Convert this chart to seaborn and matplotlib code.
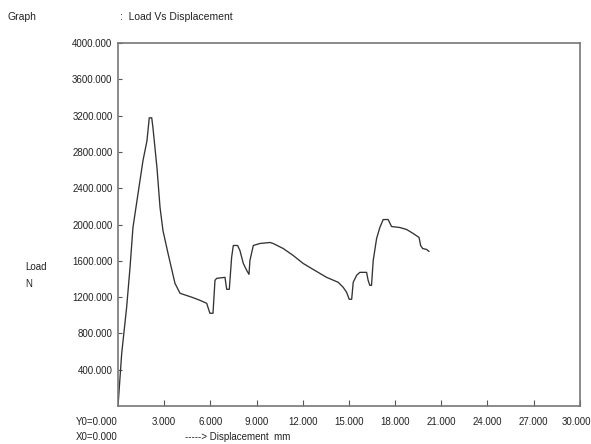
import seaborn as sns
import pandas as pd
from matplotlib import pyplot as plt
from matplotlib.transforms import ScaledTranslation

# displacement (mm) and load (N)
displacement = [0.0, 0.24, 0.56, 0.78, 0.97, 1.30, 1.62, 1.88, 2.03, 2.19, 2.27,
                2.53, 2.73, 2.92, 3.25, 3.70, 4.03, 4.81, 5.32, 5.76, 5.97, 6.17,
                6.30, 6.41, 6.95, 7.06, 7.23, 7.38, 7.49, 7.77, 7.92, 8.14, 8.36,
                8.51, 8.57, 8.79, 9.22, 9.87, 10.08, 10.73, 11.38, 12.03, 12.68,
                13.55, 14.31, 14.63, 14.85, 15.02, 15.18, 15.28, 15.50, 15.71,
                16.15, 16.25, 16.36, 16.47, 16.58, 16.80, 17.01, 17.23, 17.55,
                17.77, 18.31, 18.75, 19.18, 19.56, 19.66, 19.79, 20.05, 20.21]
load = [0, 582, 1088, 1527, 1967, 2341, 2703, 2923, 3176, 3176, 3066,
        2626, 2187, 1934, 1681, 1352, 1242, 1198, 1165, 1132, 1022, 1022,
        1385, 1407, 1418, 1286, 1286, 1637, 1769, 1769, 1714, 1571, 1495,
        1451, 1604, 1769, 1791, 1802, 1791, 1736, 1659, 1571, 1505,
        1418, 1363, 1308, 1253, 1176, 1176, 1363, 1440, 1473,
        1473, 1385, 1330, 1330, 1604, 1846, 1967, 2055, 2055,
        1978, 1967, 1945, 1901, 1857, 1769, 1736, 1725, 1703]

x_ticks = [3, 6, 9, 12, 15, 18, 21, 24, 27, 30]
y_ticks = [400, 800, 1200, 1600, 2000, 2400, 2800, 3200, 3600, 4000]

df = pd.DataFrame({'Displacement': displacement, 'Load': load})

sns.set_style('white')
plt.rcParams['font.family'] = ['Liberation Sans', 'DejaVu Sans']

fig = plt.figure(figsize=(5.91, 4.44), dpi=100)
ax = fig.add_axes([0.1997, 0.0856, 0.7813, 0.8174])

sns.lineplot(data=df, x='Displacement', y='Load', sort=False, color='#333333',
             linewidth=0.95, ax=ax)

ax.set_xlim(0, 30)
ax.set_ylim(0, 4000)
ax.set_xticks(x_ticks)
ax.set_xticklabels(['{:.3f}'.format(v) for v in x_ticks])
ax.set_yticks(y_ticks)
ax.set_yticklabels(['{:.3f}'.format(v) for v in y_ticks])
ax.tick_params(axis='both', direction='in', length=3, width=0.8, color='#555555',
               labelsize=7, labelcolor='#222222', pad=4, bottom=True, left=True)
ax.tick_params(axis='x', length=4, pad=8)
ax.set_xlabel('')
ax.set_ylabel('')

# last x label sits right at the page edge, nudge it in a little
last = ax.get_xticklabels()[-1]
last.set_transform(last.get_transform() + ScaledTranslation(-3 / 100, 0, fig.dpi_scale_trans))

for s in ax.spines.values():
    s.set_color('#777777')
    s.set_linewidth(1.2)

# header and side texts the way the printout has them
fig.text(8 / 591, 1 - 17 / 444, 'Graph', fontsize=7.5, va='center', color='#222222')
fig.text(120 / 591, 1 - 17 / 444, ':  Load Vs Displacement', fontsize=7.5, va='center',
         color='#222222')
fig.text(25 / 591, 1 - 267 / 444, 'Load', fontsize=7, va='center', color='#222222')
fig.text(25 / 591, 1 - 284 / 444, 'N', fontsize=7, va='center', color='#222222')
fig.text(76 / 591, 1 - 422 / 444, 'Y0=0.000', fontsize=7, va='center', color='#222222')
fig.text(76 / 591, 1 - 437 / 444, 'X0=0.000', fontsize=7, va='center', color='#222222')
fig.text(185 / 591, 1 - 437 / 444, '-----> Displacement  mm', fontsize=7, va='center',
         color='#222222')

fig.savefig('out.png', dpi=100)
